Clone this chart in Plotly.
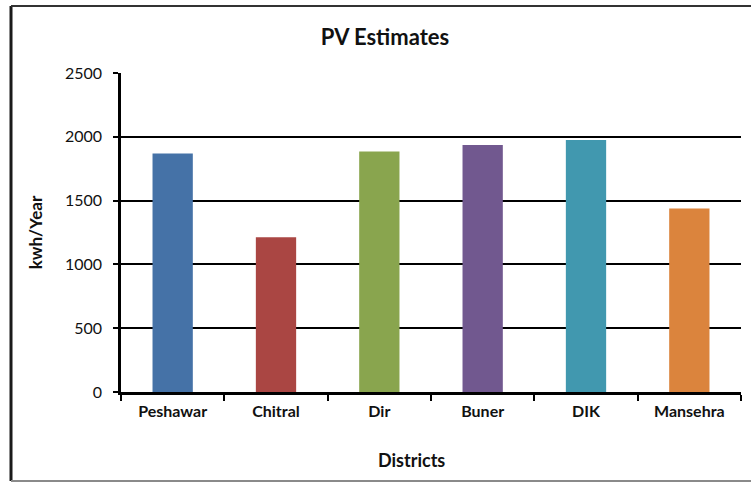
import plotly.graph_objects as go

# PV yield estimates per district
districts = ["Peshawar", "Chitral", "Dir", "Buner", "DIK", "Mansehra"]
pv_kwh_year = [1870, 1213, 1885, 1935, 1975, 1438]
bar_colors = ["#4572A7", "#AA4643", "#89A54E", "#71588F", "#4198AF", "#DB843D"]
y_ticks = [0, 500, 1000, 1500, 2000, 2500]

W, H = 751, 482
L, R, T, B = 121, 10, 73, 90
plot_w = W - L - R
plot_h = H - T - B


def px_x(p):
    return (p - L) / plot_w


def px_y(p):
    return (H - B - p) / plot_h


FONT = "Lato"

fig = go.Figure(
    go.Bar(
        x=districts,
        y=pv_kwh_year,
        marker=dict(color=bar_colors, line=dict(width=0)),
        width=0.39,
    )
)

fig.update_layout(
    width=W,
    height=H,
    margin=dict(l=L, r=R, t=T, b=B),
    paper_bgcolor="white",
    plot_bgcolor="white",
    showlegend=False,
    font=dict(family=FONT, color="#111111"),
    title=dict(
        text="<b>PV Estimates</b>",
        x=px_x(385), xref="paper", xanchor="center",
        y=1 - 37 / H, yref="container", yanchor="middle",
        font=dict(size=22, family=FONT, color="#111111"),
    ),
)

fig.update_xaxes(
    showline=True, linecolor="black", linewidth=2.5,
    ticks="outside", ticklen=6, tickwidth=2, tickcolor="black",
    tickson="boundaries",
    tickfont=dict(size=16, family=FONT, color="#111111"),
    tickprefix="<b>", ticksuffix="</b>",
    ticklabelstandoff=3,
    showgrid=False,
)

# x-axis title, placed slightly left of the plot centre
fig.add_annotation(
    text="<b>Districts</b>", xref="paper", yref="paper",
    x=px_x(411), y=px_y(460), xanchor="center", yanchor="middle",
    showarrow=False, font=dict(size=18, family=FONT, color="#111111"),
)

fig.update_yaxes(
    range=[0, 2500],
    tickvals=y_ticks,
    showline=True, linecolor="black", linewidth=2.5,
    ticks="outside", ticklen=5, tickwidth=2, tickcolor="black",
    tickfont=dict(size=16, family=FONT, color="#111111"),
    tickprefix="<b>", ticksuffix="</b>",
    ticklabelstandoff=8,
    showgrid=True, gridcolor="black", gridwidth=1.5,
    zeroline=False,
    title=dict(text="<b>kwh/Year</b>", font=dict(size=17, family=FONT), standoff=18),
)

# Outer frame of the chart
frame = [
    dict(x0=px_x(11), x1=px_x(11), y0=px_y(6), y1=px_y(481), color="#1a1a1a", width=3),
    dict(x0=px_x(11), x1=px_x(760), y0=px_y(6), y1=px_y(6), color="#333333", width=2),
    dict(x0=px_x(11), x1=px_x(760), y0=px_y(481), y1=px_y(481), color="#8a8a8a", width=2),
]
for s in frame:
    fig.add_shape(
        type="line", xref="paper", yref="paper",
        x0=s["x0"], x1=s["x1"], y0=s["y0"], y1=s["y1"],
        line=dict(color=s["color"], width=s["width"]),
        layer="above",
    )

fig.write_html("out.html")
